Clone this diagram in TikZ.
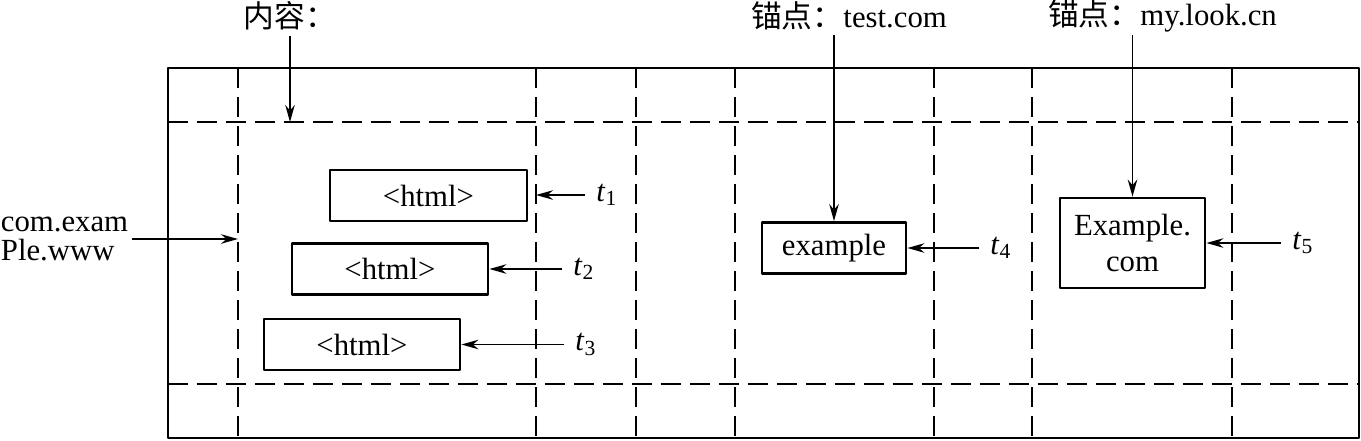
\documentclass[tikz,border=0pt]{standalone}
\usepackage{fontspec}
\setmainfont{Liberation Serif}
\newfontfamily\cjk{Noto Sans CJK SC}
\usetikzlibrary{arrows.meta}

\begin{document}
\begin{tikzpicture}[x=0.02cm,y=-0.02cm,line join=round,
  font=\fontsize{17.5}{21}\selectfont,
  box/.style={draw,line width=1.6pt,inner sep=0pt,align=center,minimum height=1.02cm},
  tlabel/.style={anchor=west,inner sep=0.22cm},
  gridline/.style={line width=1.1pt,dash pattern=on 0.4cm off 0.18cm},
  arr/.style={-{Stealth[length=0.34cm,width=0.19cm]},line width=1.1pt}]
\useasboundingbox (0,0) rectangle (1361,440);

% table of the page
\draw [line width=1.1pt] (168,68) rectangle (1359,438);
\foreach \y in {122,384} \draw [gridline] (168,\y)--(1359,\y);
\foreach \x in {238,536,636,735,934,1032,1232} \draw [gridline] (\x,68)--(\x,438);

% cells
\node [box,minimum width=3.94cm] (html1) at (428.5,195.5) {<html>};
\node [box,minimum width=3.92cm] (html2) at (390,269) {<html>};
\node [box,minimum width=3.92cm] (html3) at (362,344.5) {<html>};
\node [box,minimum width=2.88cm] (ex) at (834,248) {example};
\node [box,minimum width=2.9cm,minimum height=1.8cm] (exc) at (1132.5,243) {Example.\\com};

% row key
\node [anchor=east,align=left,inner sep=2pt,font=\fontsize{17.5}{17}\selectfont] (row) at (132,239) {com.exam\\Ple.www};
\coordinate (rowend) at (238,239);
\draw [arr] (row.east)--(rowend);

% column labels
\node (cont) at (290,16) {\cjk 内容：};
\draw [arr] (cont.south)--(cont.south |- 0,122);
\node [anchor=west] (anc1) at (745,16) {{\cjk 锚点：}test.com};
\draw [arr] (ex.north |- 0,35)--(ex.north);
\node [anchor=west] (anc2) at (1042,16) {{\cjk 锚点：}my.look.cn};
\draw [arr] (exc.north |- 0,35)--(exc.north);

% timestamps
\node [tlabel] (t1) at (585,195) {\textit{t}\textsubscript{1}};
\coordinate (t1end) at (536,195);
\draw [arr] (t1.west)--(t1end);
\node [tlabel] (t2) at (562,269) {\textit{t}\textsubscript{2}};
\draw [arr] (t2.west)--(html2.east);
\node [tlabel] (t3) at (564,344.5) {\textit{t}\textsubscript{3}};
\draw [arr] (t3.west)--(html3.east);
\node [tlabel] (t4) at (979,248) {\textit{t}\textsubscript{4}};
\draw [arr] (t4.west)--(ex.east);
\node [tlabel] (t5) at (1281,243) {\textit{t}\textsubscript{5}};
\draw [arr] (t5.west)--(exc.east);
\end{tikzpicture}
\end{document}
